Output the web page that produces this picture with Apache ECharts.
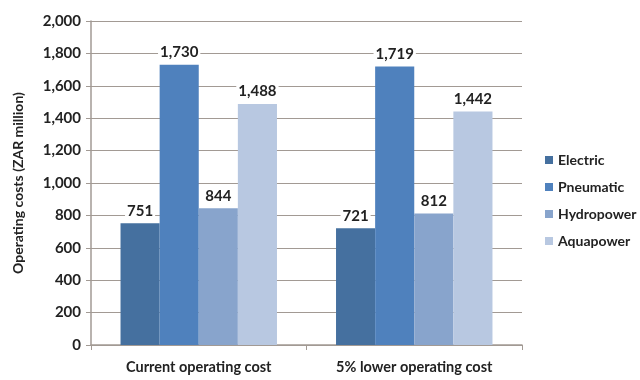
<!DOCTYPE html>
<html>
<head>
<meta charset="utf-8">
<script src="https://cdn.jsdelivr.net/npm/echarts@6/dist/echarts.min.js"></script>
<style>
  html, body { margin: 0; padding: 0; background: #fff; }
  #chart { width: 640px; height: 380px; }
</style>
</head>
<body>
<div id="chart"></div>
<script>
const categories = ['Current operating cost', '5% lower operating cost']
const electric = [751, 721]
const pneumatic = [1730, 1719]
const hydropower = [844, 812]
const aquapower = [1488, 1442]
const yTicks = { min: 0, max: 2000, interval: 200 }

const font = 'Lato, "Open Sans", sans-serif'
const gridColor = '#a29a94'

const makeSeries = (name, data, color) => ({
  name,
  type: 'bar',
  data,
  barGap: '0%',
  barCategoryGap: '27.4%',
  itemStyle: { color },
  label: {
    show: true,
    position: 'top',
    distance: 4,
    color: '#222',
    fontFamily: font,
    fontWeight: 'bold',
    fontSize: 15,
    backgroundColor: '#fff',
    padding: [1, 2],
    formatter: (p) => p.value.toLocaleString('en-US')
  }
})

const chart = echarts.init(document.getElementById('chart'))
chart.setOption({
  animation: false,
  backgroundColor: '#fff',
  grid: { left: 91, right: 118, top: 21, bottom: 35 },
  legend: {
    orient: 'vertical',
    left: 540,
    top: 148,
    itemWidth: 8,
    itemHeight: 8,
    itemGap: 13,
    icon: 'rect',
    textStyle: { fontFamily: font, fontWeight: 'bold', fontSize: 14, color: '#222' },
    data: ['Electric', 'Pneumatic', 'Hydropower', 'Aquapower']
  },
  xAxis: {
    type: 'category',
    data: categories,
    axisLine: { lineStyle: { color: gridColor, width: 1.5 } },
    axisTick: { show: true, length: 5, lineStyle: { color: gridColor } },
    axisLabel: { fontFamily: font, fontWeight: 'bold', fontSize: 14.5, color: '#222', margin: 15 }
  },
  yAxis: {
    type: 'value',
    min: yTicks.min,
    max: yTicks.max,
    interval: yTicks.interval,
    name: 'Operating costs (ZAR million)',
    nameLocation: 'middle',
    nameGap: 66,
    nameTextStyle: { fontFamily: font, fontWeight: 'bold', fontSize: 14, color: '#222' },
    axisLine: { show: true, lineStyle: { color: gridColor, width: 1.5 } },
    axisTick: { show: true, length: 5, lineStyle: { color: gridColor } },
    splitLine: { lineStyle: { color: gridColor, width: 1.2 } },
    axisLabel: {
      fontFamily: font, fontWeight: 'bold', fontSize: 15, color: '#222', margin: 10,
      formatter: (v) => v.toLocaleString('en-US')
    }
  },
  series: [
    makeSeries('Electric', electric, '#45709f'),
    makeSeries('Pneumatic', pneumatic, '#4f81bd'),
    makeSeries('Hydropower', hydropower, '#88a4cc'),
    makeSeries('Aquapower', aquapower, '#b8c8e1')
  ]
})
</script>
</body>
</html>
